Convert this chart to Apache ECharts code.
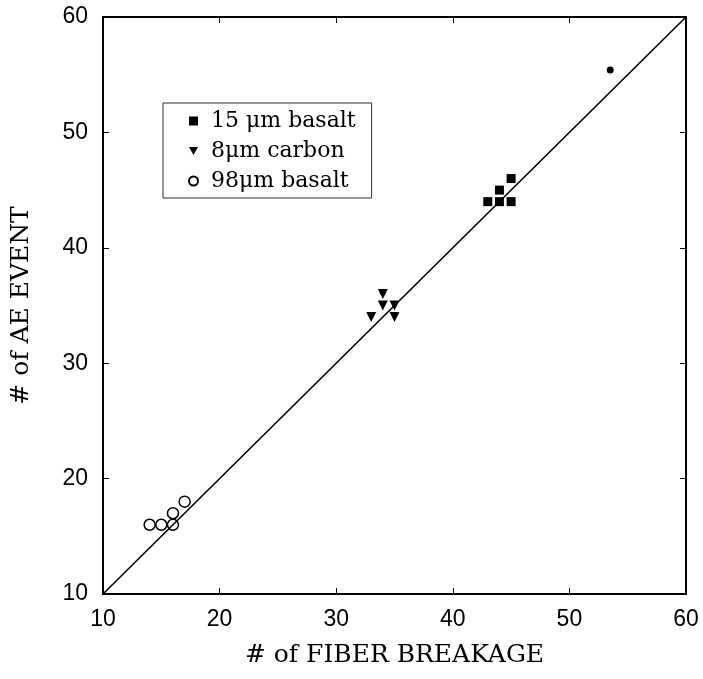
<!DOCTYPE html>
<html>
<head>
<meta charset="utf-8">
<script src="https://cdn.jsdelivr.net/npm/echarts@6/dist/echarts.min.js"></script>
<style>
html, body { margin: 0; padding: 0; background: #fff; }
#chart { width: 703px; height: 679px; }
</style>
</head>
<body>
<div id="chart"></div>
<script>
// 15um basalt (filled squares)
const basalt15 = [[43, 44], [44, 44], [45, 44], [44, 45], [45, 46]]
// 8um carbon (filled down triangles)
const carbon8 = [[33, 34], [35, 34], [34, 35], [35, 35], [34, 36]]
// 98um basalt (open circles)
const basalt98 = [[14, 16], [15, 16], [16, 16], [16, 17], [17, 18]]
// stray mark near top right
const strayMark = [[53.5, 55.4]]
// 1:1 reference line
const diagonal = [[10, 10], [60, 60]]

const axisTicks = [10, 20, 30, 40, 50, 60]

const chart = echarts.init(document.getElementById('chart'))

const labelFont = { color: '#000', fontFamily: 'Liberation Sans', fontSize: 23 }
const titleFont = { color: '#000', fontFamily: 'DejaVu Serif', fontSize: 25 }
const downTriangle = 'path://M0,0 L10,0 L5,9 Z'

function frameAxis(extra) {
	return Object.assign({
		type: 'value',
		min: axisTicks[0],
		max: axisTicks[axisTicks.length - 1],
		interval: 10,
		axisLine: { show: true, lineStyle: { color: '#000', width: 2 } },
		axisTick: { show: true, inside: true, length: 6, lineStyle: { color: '#000', width: 1 } },
		splitLine: { show: false }
	}, extra)
}

const option = {
	backgroundColor: '#fff',
	animation: false,
	grid: { left: 103, right: 17, top: 17, bottom: 85 },
	legend: {
		orient: 'vertical',
		left: 163,
		top: 103,
		padding: [7, 16, 6, 25],
		itemGap: 8,
		itemWidth: 9,
		itemHeight: 9,
		borderColor: '#333',
		borderWidth: 1,
		textStyle: { color: '#000', fontFamily: 'DejaVu Serif', fontSize: 22, padding: [0, 0, 0, 8] },
		data: [
			{ name: '15 μm basalt', icon: 'rect' },
			{ name: '8μm carbon', icon: downTriangle },
			{ name: '98μm basalt', icon: 'circle' }
		]
	},
	xAxis: [
		frameAxis({
			position: 'bottom',
			name: '# of FIBER BREAKAGE',
			nameLocation: 'middle',
			nameGap: 49,
			nameTextStyle: titleFont,
			axisLabel: Object.assign({ margin: 14 }, labelFont)
		}),
		frameAxis({ position: 'top', axisLabel: { show: false } })
	],
	yAxis: [
		frameAxis({
			position: 'left',
			name: '# of AE EVENT',
			nameLocation: 'middle',
			nameGap: 69,
			nameTextStyle: titleFont,
			axisLabel: Object.assign({ margin: 15 }, labelFont)
		}),
		frameAxis({ position: 'right', axisLabel: { show: false } })
	],
	series: [
		{
			name: 'diagonal',
			type: 'line',
			data: diagonal,
			symbol: 'none',
			lineStyle: { color: '#000', width: 1.6 },
			silent: true
		},
		{
			name: '15 μm basalt',
			type: 'scatter',
			data: basalt15,
			symbol: 'rect',
			symbolSize: 9,
			itemStyle: { color: '#000', opacity: 1 }
		},
		{
			name: '8μm carbon',
			type: 'scatter',
			data: carbon8,
			symbol: 'triangle',
			symbolRotate: 180,
			symbolSize: 10,
			itemStyle: { color: '#000', opacity: 1 }
		},
		{
			name: '98μm basalt',
			type: 'scatter',
			data: basalt98,
			symbol: 'circle',
			symbolSize: 11,
			itemStyle: { color: '#fff', borderColor: '#000', borderWidth: 1.5, opacity: 1 }
		},
		{
			name: 'stray',
			type: 'scatter',
			data: strayMark,
			symbol: 'circle',
			symbolSize: 7,
			itemStyle: { color: '#000', opacity: 1 }
		}
	]
}

chart.setOption(option)
</script>
</body>
</html>
